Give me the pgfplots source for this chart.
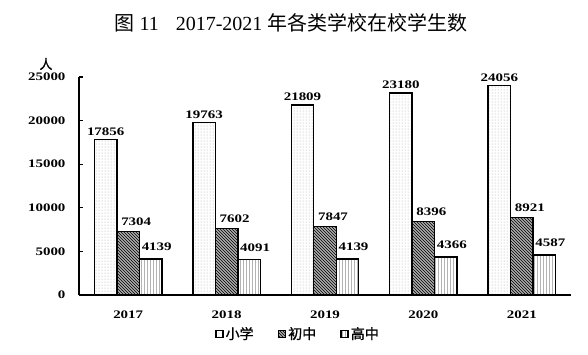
\documentclass[border=0pt]{standalone}
\usepackage{pgfplots}
\pgfplotsset{compat=1.18}
\usetikzlibrary{patterns}
\usepackage{fontspec}
\setmainfont{Liberation Serif}
\newfontfamily\cjk{Noto Sans CJK SC}
\newfontfamily\cjkb[FakeBold=1.2]{Noto Sans CJK SC}
\newfontfamily\numf[FakeStretch=1.3]{Liberation Serif}
\begin{document}
\begin{tikzpicture}[x=1pt,y=1pt]
\useasboundingbox (0,0) rectangle (588,354);
\node[font=\fontsize{20}{23}\selectfont] at (291,331) {{\cjk 图} 11\hspace{17pt}2017-2021 {\cjk 年各类学校在校学生数}};
\node[font=\fontsize{13}{15}\selectfont\cjkb] at (46,290) {人};
\begin{axis}[
  at={(79pt,59pt)}, anchor=south west,
  scale only axis, width=492pt, height=218pt,
  xmin=-0.5, xmax=4.5, ymin=0, ymax=25000,
  scaled y ticks=false,
  axis lines=left, axis line style={-, line width=1.3pt},
  ybar, bar width=22.5pt,
  xtick={0,1,2,3,4}, xticklabels={2017,2018,2019,2020,2021},
  xtick style={draw=none},
  minor xtick={0.5,1.5,2.5,3.5},
  minor tick length=4pt,
  every minor tick/.style={line width=1.2pt, black},
  ytick={0,5000,10000,15000,20000,25000},
  ytick align=inside, xtick align=inside,
  major tick length=4pt,
  ytick style={line width=1.2pt, black},
  tick label style={font=\fontsize{11.5}{13}\selectfont\numf\bfseries},
  /pgf/number format/assume math mode=true,
  /pgf/number format/1000 sep={},
  yticklabel style={xshift=-10pt},
  xticklabel style={yshift=-12pt},
  nodes near coords,
  every node near coord/.append style={font=\fontsize{11.5}{13}\selectfont\numf\bfseries, /pgf/number format/assume math mode=true, /pgf/number format/1000 sep={}},
  legend style={at={(0.445,-0.178)}, anchor=center, draw=none, fill=none, legend columns=3,
    font=\fontsize{14}{16}\selectfont\cjkb, /tikz/every even column/.append style={column sep=22pt}},
  legend image code/.code={\draw[#1, line width=1.6pt] (0pt,-3.5pt) rectangle (7pt,3.5pt);},
  clip=false,
]
\addplot[draw=black, line width=1.4pt, fill=white, pattern=dots, pattern color=gray!70, bar shift=-22.5pt]
  coordinates {(0,17856) (1,19763) (2,21809) (3,23180) (4,24056)};
\addplot[draw=black, line width=1.4pt, fill=gray!65, postaction={pattern=north west lines, pattern color=black}, bar shift=0pt,
  every node near coord/.append style={xshift=8pt, yshift=2pt}]
  coordinates {(0,7304) (1,7602) (2,7847) (3,8396) (4,8921)};
\addplot[draw=black, line width=1.4pt, fill=white, pattern=vertical lines, pattern color=gray!60, bar shift=22.5pt,
  every node near coord/.append style={xshift=6pt, yshift=4pt}]
  coordinates {(0,4139) (1,4091) (2,4139) (3,4366) (4,4587)};
\legend{小学,初中,高中}
\end{axis}
\end{tikzpicture}
\end{document}
